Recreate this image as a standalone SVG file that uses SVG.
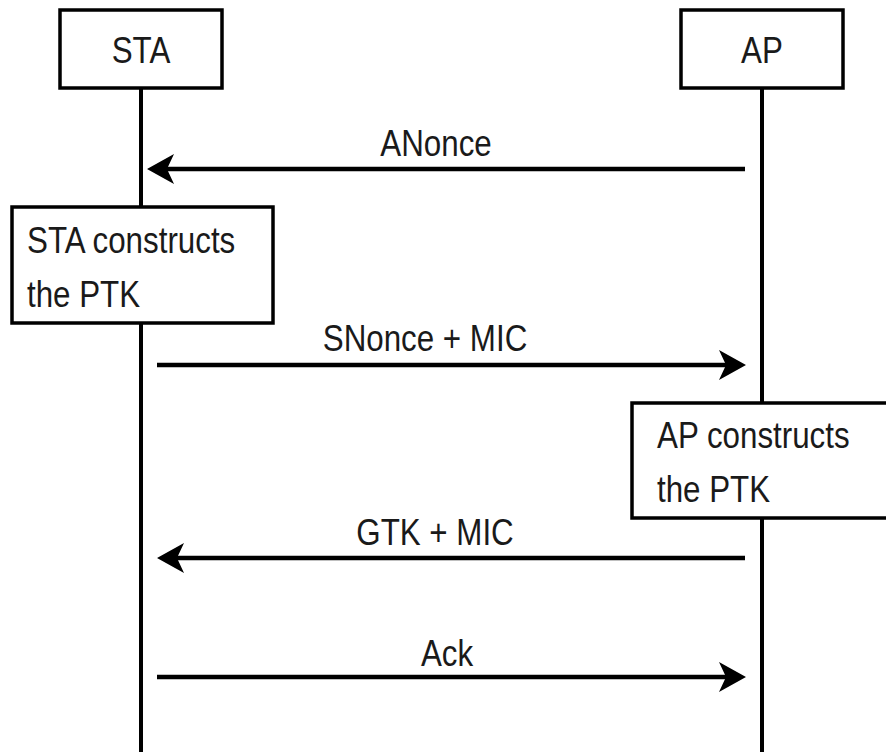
<svg xmlns="http://www.w3.org/2000/svg" width="886" height="752" viewBox="0 0 886 752">
<style>
.box{fill:#fff;stroke:#000;stroke-width:3.5}
.life{stroke:#000;stroke-width:4;fill:none}
.msg{stroke:#000;stroke-width:4.5;fill:none}
.head{fill:#000}
text{font-family:"Liberation Sans",Arial,sans-serif;font-size:36px;fill:#1a1a1a}
</style>
<rect width="886" height="752" fill="#fff"/>
<g id="lifelines">
<line class="life" x1="141" y1="88" x2="141" y2="752"/>
<line class="life" x1="762" y1="88" x2="762" y2="752"/>
</g>
<g id="STA">
<rect class="box" x="60" y="10" width="162" height="78"/>
<text transform="translate(141 63) scale(0.87 1)" text-anchor="middle">STA</text>
</g>
<g id="AP">
<rect class="box" x="681" y="10" width="162" height="78"/>
<text transform="translate(762 63) scale(0.87 1)" text-anchor="middle">AP</text>
</g>
<g id="STA-constructs">
<rect class="box" x="12" y="207" width="261" height="116"/>
<text transform="translate(27 253) scale(0.87 1)">STA constructs</text>
<text transform="translate(27 307) scale(0.87 1)">the PTK</text>
</g>
<g id="AP-constructs">
<rect class="box" x="632" y="403" width="258" height="115"/>
<text transform="translate(657 448) scale(0.87 1)">AP constructs</text>
<text transform="translate(657 502) scale(0.87 1)">the PTK</text>
</g>
<g id="connectors">
<line class="msg" x1="745" y1="169" x2="165" y2="169"/>
<path class="head" d="M147 169 L174 154 L167 169 L174 184 Z"/>
<line class="msg" x1="157" y1="365" x2="727" y2="365"/>
<path class="head" d="M746 365 L719 350 L726 365 L719 380 Z"/>
<line class="msg" x1="745" y1="558" x2="175" y2="558"/>
<path class="head" d="M157 558 L184 543 L177 558 L184 573 Z"/>
<line class="msg" x1="157" y1="677" x2="727" y2="677"/>
<path class="head" d="M746 677 L719 662 L726 677 L719 692 Z"/>
</g>
<g id="labels">
<text transform="translate(436 156) scale(0.87 1)" text-anchor="middle">ANonce</text>
<text transform="translate(425 351) scale(0.87 1)" text-anchor="middle">SNonce + MIC</text>
<text transform="translate(435 545) scale(0.87 1)" text-anchor="middle">GTK + MIC</text>
<text transform="translate(447 666) scale(0.87 1)" text-anchor="middle">Ack</text>
</g>
</svg>
